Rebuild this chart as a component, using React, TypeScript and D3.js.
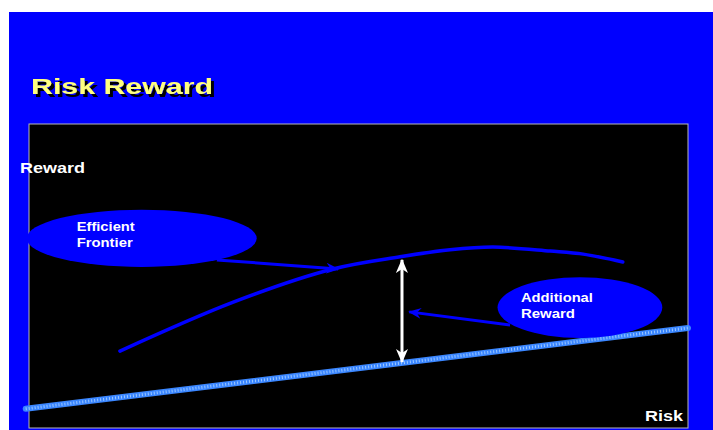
import React, { useEffect, useRef } from 'react';
import * as d3 from 'd3';

// efficient frontier curve, risk vs reward (0..10 units)
const frontierRisk = [1.38, 3.1, 4.61, 5.63, 6.39, 7.04, 7.91, 8.41, 9.01];
const frontierReward = [2.53, 4.14, 5.23, 5.63, 5.86, 5.95, 5.82, 5.72, 5.46];

// straight market line
const lineRisk = [-0.05, 10];
const lineReward = [0.63, 3.29];

// gap arrow between frontier and line
const gapRisk = 5.66;
const gapReward = [5.53, 2.17];

// callouts
const calloutLabels = [['Efficient', 'Frontier'], ['Additional', 'Reward']];
const calloutCenter = [[1.71, 6.24], [8.36, 3.96]];
const calloutRadius = [[1.745, 0.94], [1.25, 1.0]];
const calloutArrowFrom = [[2.85, 5.53], [7.3, 3.39]];
const calloutArrowTo = [[4.69, 5.23], [5.77, 3.82]];

function App() {
  const svgRef = useRef<SVGSVGElement>(null);

  useEffect(() => {
    const svg = d3.select(svgRef.current);
    svg.selectAll('*').remove();

    const W = 713, H = 430;
    const plot = { left: 29, right: 688, top: 124, bottom: 428 };

    const x = d3.scaleLinear().domain([0, 10]).range([plot.left, plot.right]);
    const y = d3.scaleLinear().domain([0, 10]).range([plot.bottom, plot.top]);

    const defs = svg.append('defs');
    defs.append('filter')
      .attr('id', 'shadow')
      .attr('x', '-10%').attr('y', '-30%').attr('width', '130%').attr('height', '170%')
      .append('feDropShadow')
      .attr('dx', 3).attr('dy', 3).attr('stdDeviation', 0)
      .attr('flood-color', '#000000').attr('flood-opacity', 1);
    defs.append('marker')
      .attr('id', 'blueHead')
      .attr('viewBox', '0 0 12 10')
      .attr('refX', 11).attr('refY', 5)
      .attr('markerWidth', 13).attr('markerHeight', 11)
      .attr('markerUnits', 'userSpaceOnUse')
      .attr('orient', 'auto')
      .append('path')
      .attr('d', 'M0,0 L12,5 L0,10 L4,5 Z')
      .attr('fill', '#0000ff');
    defs.append('marker')
      .attr('id', 'whiteHead')
      .attr('viewBox', '0 0 14 12')
      .attr('refX', 13).attr('refY', 6)
      .attr('markerWidth', 14).attr('markerHeight', 12)
      .attr('markerUnits', 'userSpaceOnUse')
      .attr('orient', 'auto-start-reverse')
      .append('path')
      .attr('d', 'M0,0 L14,6 L0,12 L4,6 Z')
      .attr('fill', '#ffffff');

    // background
    svg.append('rect').attr('x', 0).attr('y', 0).attr('width', W).attr('height', H).attr('fill', '#ffffff');
    svg.append('rect').attr('x', 9).attr('y', 12).attr('width', W - 9).attr('height', H - 12).attr('fill', '#0000ff');
    svg.append('rect')
      .attr('x', plot.left).attr('y', plot.top)
      .attr('width', plot.right - plot.left).attr('height', plot.bottom - plot.top)
      .attr('fill', '#000000')
      .attr('stroke', '#b8b8b8').attr('stroke-width', 1);

    // title with hard shadow
    svg.append('text')
      .attr('x', 31).attr('y', 94)
      .attr('font-family', 'Liberation Sans, Arial, sans-serif')
      .attr('font-weight', 'bold').attr('font-size', 22)
      .attr('textLength', 182).attr('lengthAdjust', 'spacingAndGlyphs')
      .attr('filter', 'url(#shadow)')
      .attr('fill', '#ffff80').text('Risk Reward');

    // market line (dotted light blue)
    const lineData = lineRisk.map((r, i) => [r, lineReward[i]] as [number, number]);
    const straight = d3.line<[number, number]>().x(d => x(d[0])).y(d => y(d[1]));
    svg.append('path').datum(lineData)
      .attr('d', straight)
      .attr('stroke', '#3a86ff').attr('stroke-width', 6)
      .attr('stroke-linecap', 'round').attr('fill', 'none');
    svg.append('path').datum(lineData)
      .attr('d', straight)
      .attr('stroke', '#9cc8ff').attr('stroke-width', 3)
      .attr('stroke-dasharray', '1 2').attr('fill', 'none');

    // efficient frontier
    const frontier = frontierRisk.map((r, i) => [r, frontierReward[i]] as [number, number]);
    svg.append('path').datum(frontier)
      .attr('d', d3.line<[number, number]>().x(d => x(d[0])).y(d => y(d[1])).curve(d3.curveCatmullRom))
      .attr('stroke', '#0000ff').attr('stroke-width', 3.5)
      .attr('stroke-linecap', 'round').attr('fill', 'none');

    // gap double arrow
    svg.append('line')
      .attr('x1', x(gapRisk)).attr('x2', x(gapRisk))
      .attr('y1', y(gapReward[0])).attr('y2', y(gapReward[1]))
      .attr('stroke', '#ffffff').attr('stroke-width', 3)
      .attr('marker-start', 'url(#whiteHead)')
      .attr('marker-end', 'url(#whiteHead)');

    // callouts
    calloutLabels.forEach((lbl, i) => {
      const [cx, cy] = calloutCenter[i];
      const [rx, ry] = calloutRadius[i];
      svg.append('line')
        .attr('x1', x(calloutArrowFrom[i][0])).attr('y1', y(calloutArrowFrom[i][1]))
        .attr('x2', x(calloutArrowTo[i][0])).attr('y2', y(calloutArrowTo[i][1]))
        .attr('stroke', '#0000ff').attr('stroke-width', 3)
        .attr('marker-end', 'url(#blueHead)');
      svg.append('ellipse')
        .attr('cx', x(cx)).attr('cy', y(cy))
        .attr('rx', x(rx) - x(0)).attr('ry', y(0) - y(ry))
        .attr('fill', '#0000ff');
      const tx = i === 0 ? x(cx) - 65 : x(cx) - 59;
      const ty = i === 0 ? y(cy) - 7 : y(cy) - 6;
      const lens = i === 0 ? [58, 56] : [72, 54];
      lbl.forEach((t, j) => {
        svg.append('text')
          .attr('x', tx).attr('y', ty + j * 16)
          .attr('font-family', 'Liberation Sans, Arial, sans-serif')
          .attr('font-weight', 'bold').attr('font-size', 12)
          .attr('textLength', lens[j]).attr('lengthAdjust', 'spacingAndGlyphs')
          .attr('fill', '#ffffff').text(t);
      });
    });

    // axis labels
    svg.append('text')
      .attr('x', 20).attr('y', 173)
      .attr('font-family', 'Liberation Sans, Arial, sans-serif')
      .attr('font-weight', 'bold').attr('font-size', 14)
      .attr('textLength', 65).attr('lengthAdjust', 'spacingAndGlyphs')
      .attr('fill', '#ffffff').text('Reward');
    svg.append('text')
      .attr('x', 645).attr('y', 421)
      .attr('font-family', 'Liberation Sans, Arial, sans-serif')
      .attr('font-weight', 'bold').attr('font-size', 14)
      .attr('textLength', 38).attr('lengthAdjust', 'spacingAndGlyphs')
      .attr('fill', '#ffffff').text('Risk');
  }, []);

  return (
    <svg ref={svgRef} width={713} height={430}
      style={{ position: 'absolute', left: 0, top: 0, display: 'block' }} />
  );
}

export default App;
